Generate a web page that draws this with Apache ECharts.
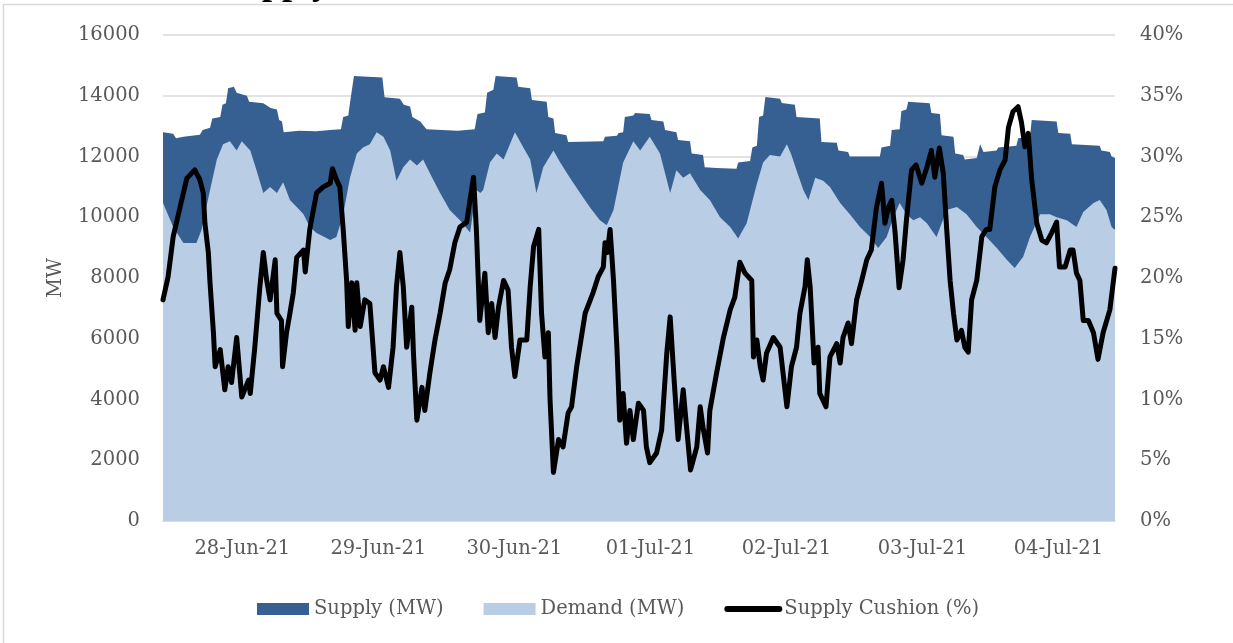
<html>
<head>
<meta charset="utf-8">
<script src="https://cdn.jsdelivr.net/npm/echarts@6/dist/echarts.min.js"></script>
<style>
  html, body { margin: 0; padding: 0; background: #fff; }
  #chart { width: 1233px; height: 643px; }
</style>
</head>
<body>
<div id="chart"></div>
<script type="text/javascript">

// hours counted from 27-Jun-21 10:00
var startTime = new Date(2021, 5, 27, 10, 0).getTime();
var spanHours = 168;

var dayLabels = ['27-Jun-21', '28-Jun-21', '29-Jun-21', '30-Jun-21', '01-Jul-21',
                 '02-Jul-21', '03-Jul-21', '04-Jul-21', '05-Jul-21'];

var supplyHours = [0, 1.8, 2.3, 3.6, 6.5, 7.0, 8.3, 8.7, 10.1, 10.5, 11.1, 11.5, 12.5, 13.0, 14.8, 15.2,
  17.7, 19.0, 20.1, 20.5, 21.0, 21.3, 24.0, 27.0, 29.5, 31.4, 31.8, 32.7, 33.1, 33.7, 38.7, 39.1,
  41.8, 42.5, 43.6, 44.0, 45.4, 46.5, 52.0, 55.0, 55.5, 56.8, 57.2, 58.3, 58.7, 62.4, 62.7, 64.8,
  65.1, 67.7, 68.0, 68.9, 69.2, 71.2, 71.5, 77.7, 78.0, 80.1, 80.4, 81.2, 81.5, 83.0, 83.3, 85.9,
  86.2, 88.3, 88.6, 90.6, 90.9, 93.0, 93.3, 95.3, 95.6, 97.7, 101.2, 101.5, 103.6, 104.0, 104.8, 105.2,
  105.9, 106.3, 108.9, 109.2, 111.5, 111.8, 115.9, 116.2, 118.9, 119.2, 120.9, 121.2, 126.5, 126.8, 128.3, 128.6,
  130.0, 130.3, 131.2, 131.5, 135.3, 135.6, 137.1, 137.4, 139.5, 139.8, 141.2, 141.5, 143.6, 144.2, 144.8, 147.1,
  147.4, 150.6, 150.9, 153.0, 153.3, 157.7, 158.0, 160.1, 160.4, 165.3, 165.6, 167.1, 167.4, 168];
var supplyMW = [12800, 12750, 12600, 12650, 12720, 12870, 12950, 13250, 13300, 13700, 13750, 14250, 14300, 14100, 14000, 13800,
  13750, 13600, 13550, 13200, 13150, 12800, 12850, 12830, 12870, 12900, 13300, 13350, 13900, 14650, 14600, 13950,
  13900, 13700, 13650, 13300, 13150, 12900, 12850, 12900, 13400, 13450, 14100, 14200, 14650, 14600, 14300, 14250,
  13860, 13800, 13300, 13250, 12770, 12700, 12480, 12500, 12650, 12680, 12770, 12800, 13300, 13350, 13430, 13400,
  13200, 13150, 12870, 12800, 12540, 12500, 12100, 12050, 11650, 11620, 11600, 11800, 11850, 12300, 12350, 13300,
  13350, 13960, 13900, 13760, 13700, 13300, 13250, 12480, 12450, 12200, 12150, 12000, 12000, 12300, 12350, 12870,
  12900, 13500, 13550, 13800, 13750, 13430, 13400, 12700, 12650, 12100, 12050, 11900, 11950, 12400, 12150, 12200,
  12300, 12350, 12600, 12650, 13200, 13150, 12770, 12750, 12400, 12350, 12200, 12150, 12000, 11950];

var demandHours = [0, 1.8, 3.6, 5.9, 6.8, 8.3, 9.5, 10.6, 11.8, 13.0, 13.9, 15.4, 16.5, 17.7, 18.9, 20.1,
  21.2, 22.4, 23.6, 24.8, 25.9, 27.1, 29.5, 30.6, 31.8, 33.0, 34.2, 35.3, 36.5, 37.7, 38.9, 40.1,
  41.2, 42.4, 43.6, 44.8, 45.9, 47.1, 48.9, 50.6, 52.4, 54.2, 54.8, 55.3, 56.0, 56.5, 57.7, 58.9,
  60.1, 62.1, 63.6, 64.8, 65.9, 67.1, 68.9, 70.1, 71.8, 73.6, 75.3, 77.1, 78.3, 79.5, 81.2, 83.0,
  84.2, 85.9, 87.7, 89.5, 90.6, 91.8, 93.0, 94.8, 96.5, 98.3, 100.1, 101.5, 103.0, 104.8, 105.9, 107.1,
  108.9, 110.1, 110.9, 111.8, 113.0, 113.9, 115.1, 116.5, 117.7, 119.5, 121.2, 123.0, 124.8, 126.2, 127.7, 128.9,
  130.0, 131.2, 132.4, 133.6, 134.8, 136.5, 138.3, 140.1, 141.8, 143.6, 145.3, 147.1, 148.9, 150.3, 151.8, 153.0,
  154.8, 156.5, 157.7, 159.5, 161.2, 162.4, 164.2, 165.3, 166.5, 167.4, 168];
var demandMW = [10470, 9680, 9150, 9150, 9580, 10900, 11900, 12400, 12500, 12200, 12500, 12200, 11550, 10800, 11000, 10800,
  11150, 10570, 10340, 10100, 9680, 9480, 9250, 9350, 10100, 11300, 12100, 12300, 12400, 12800, 12650, 12200,
  11200, 11650, 11900, 11700, 11900, 11450, 10800, 10240, 9900, 9500, 10300, 10900, 10800, 10900, 11800, 12100,
  11900, 12800, 12300, 11900, 10800, 11650, 12200, 11800, 11300, 10800, 10340, 9900, 9740, 10240, 11800, 12500,
  12200, 12650, 12100, 10800, 11550, 11300, 11450, 10900, 10570, 10000, 9680, 9300, 9800, 11100, 11800, 12050,
  12000, 12400, 12050, 11550, 10900, 10570, 11300, 11200, 11000, 10470, 10100, 9680, 9350, 8990, 9350, 10000,
  10470, 10100, 9900, 10000, 9800, 9350, 10240, 10340, 10100, 9680, 9350, 9000, 8600, 8330, 8700, 9350,
  10100, 10100, 10000, 9900, 9680, 10170, 10470, 10570, 10240, 9680, 9580];

var cushionHours = [0, 0.9, 1.8, 3.0, 4.2, 5.6, 6.5, 7.1, 7.4, 8.0, 8.3, 8.9, 9.2, 10.1, 10.9, 11.5,
  12.1, 13.0, 13.9, 15.1, 15.4, 16.2, 17.1, 17.7, 18.3, 18.9, 19.8, 20.1, 20.9, 21.1, 21.8, 22.4,
  23.0, 23.6, 24.8, 25.1, 25.9, 27.1, 28.3, 29.5, 29.9, 30.6, 31.2, 31.8, 32.4, 32.7, 33.3, 33.9,
  34.2, 34.8, 35.6, 36.5, 37.4, 38.3, 38.9, 39.8, 40.6, 41.2, 41.8, 42.4, 43.0, 43.9, 44.2, 44.8,
  45.7, 46.2, 47.1, 48.0, 48.9, 49.8, 50.6, 51.5, 52.4, 53.6, 54.2, 54.8, 55.3, 55.9, 56.8, 57.4,
  58.0, 58.6, 59.2, 60.1, 60.9, 61.5, 62.1, 63.0, 64.2, 64.8, 65.4, 66.3, 66.8, 67.4, 68.0, 68.3,
  68.9, 69.8, 70.6, 71.5, 72.1, 73.0, 74.5, 75.9, 76.8, 77.7, 78.0, 78.4, 78.9, 79.5, 80.1, 80.6,
  81.2, 81.8, 82.4, 83.0, 83.9, 84.8, 85.3, 85.9, 87.1, 88.0, 88.9, 89.5, 90.2, 90.9, 91.8, 92.4,
  93.1, 94.2, 94.8, 95.3, 96.1, 96.5, 97.7, 98.9, 100.1, 100.9, 101.8, 102.7, 103.9, 104.2, 104.8, 105.4,
  105.9, 106.5, 107.7, 108.9, 110.1, 110.9, 111.8, 112.4, 113.3, 113.7, 114.2, 114.9, 115.6, 115.9, 117.0, 117.7,
  118.9, 119.5, 120.0, 120.9, 121.5, 122.4, 123.3, 124.2, 125.0, 125.9, 126.8, 127.4, 128.0, 128.6, 129.2, 129.9,
  130.6, 131.2, 132.1, 132.9, 133.9, 134.8, 135.6, 136.2, 137.0, 137.7, 138.3, 138.9, 139.5, 140.1, 140.9, 141.5,
  142.1, 142.7, 143.6, 144.5, 145.3, 145.9, 146.8, 147.7, 148.6, 149.2, 150.0, 150.9, 151.5, 152.1, 152.7, 153.3,
  154.2, 155.1, 155.9, 156.8, 157.7, 158.2, 159.2, 160.1, 160.6, 161.2, 161.8, 162.4, 163.3, 164.2, 165.0, 165.9,
  167.1, 167.6, 168.0];
var cushionPct = [18.2, 20.1, 23.4, 25.8, 28.2, 28.9, 28.1, 27.0, 24.5, 22.1, 19.6, 15.5, 12.7, 14.1, 10.8, 12.7,
  11.4, 15.1, 10.2, 11.6, 10.5, 14.3, 19.3, 22.1, 19.8, 18.2, 21.5, 17.1, 16.5, 12.7, 15.5, 17.1,
  18.8, 21.7, 22.3, 20.5, 24.0, 27.0, 27.5, 27.8, 29.0, 28.1, 27.5, 24.0, 19.8, 16.0, 19.6, 15.7,
  19.6, 16.0, 18.2, 17.9, 12.2, 11.6, 12.7, 11.0, 14.3, 19.3, 22.1, 19.3, 14.3, 17.6, 13.8, 8.3,
  11.0, 9.1, 12.2, 14.9, 17.1, 19.6, 20.7, 22.9, 24.2, 24.6, 26.5, 28.3, 24.0, 16.5, 20.4, 15.5,
  17.9, 15.1, 17.6, 19.8, 19.0, 14.3, 11.9, 14.9, 14.9, 19.3, 22.6, 24.0, 17.1, 13.5, 15.5, 10.0,
  4.0, 6.7, 6.1, 8.9, 9.4, 12.7, 17.1, 18.8, 20.1, 20.9, 22.9, 22.1, 24.0, 19.8, 14.3, 8.3,
  10.5, 6.4, 9.1, 6.7, 9.7, 9.1, 6.1, 4.8, 5.6, 7.5, 13.8, 16.8, 11.6, 6.7, 10.8, 7.7,
  4.2, 6.1, 9.4, 7.7, 5.6, 9.1, 12.2, 15.1, 17.4, 18.4, 21.3, 20.4, 19.8, 13.5, 14.9, 12.7,
  11.6, 13.8, 15.1, 14.3, 9.4, 12.7, 14.3, 17.1, 19.3, 21.5, 19.3, 13.0, 14.3, 10.5, 9.4, 13.5,
  14.6, 13.0, 15.1, 16.3, 14.6, 18.2, 19.8, 21.5, 22.3, 25.8, 27.8, 24.5, 25.8, 26.4, 23.7, 19.2,
  21.5, 24.8, 28.9, 29.3, 27.8, 29.1, 30.5, 28.3, 30.7, 28.6, 24.0, 19.8, 17.1, 14.9, 15.7, 14.3,
  13.9, 18.2, 19.8, 23.4, 24.0, 24.0, 27.5, 28.9, 29.7, 32.4, 33.7, 34.1, 32.8, 30.8, 31.9, 28.1,
  24.5, 23.1, 22.9, 23.7, 24.6, 20.9, 20.9, 22.3, 22.3, 20.4, 19.8, 16.5, 16.5, 15.5, 13.3, 15.5,
  17.4, 19.3, 20.8];

function toPairs(hours, values) {
  return hours.map(function (h, i) { return [startTime + h * 3600000, values[i]]; });
}

var firstDay = new Date(2021, 5, 27).getTime();
var textGrey = '#595959';
var fontName = 'DejaVu Serif';

var chart = echarts.init(document.getElementById('chart'));

var option = {
  backgroundColor: '#fff',
  animation: false,
  textStyle: { fontFamily: fontName },
  grid: { left: 163, right: 118, top: 35, bottom: 122 },
  graphic: [
    {
      type: 'rect', silent: true, z: 0,
      shape: { x: 3.5, y: 4.5, width: 1240, height: 660 },
      style: { fill: 'none', stroke: '#D9D9D9', lineWidth: 1.5 }
    },
    {
      type: 'text', silent: true, z: 10,
      style: { text: 'Supply', x: 222, y: -33, verticalAlign: 'top',
               font: 'bold 36px "Liberation Serif"', fill: '#000' }
    }
  ],
  legend: {
    left: 252, top: 594,
    itemWidth: 52, itemHeight: 12, itemGap: 40,
    textStyle: { color: textGrey, fontSize: 19.5, fontFamily: fontName },
    data: [
      { name: 'Supply (MW)', icon: 'rect' },
      { name: 'Demand (MW)', icon: 'rect' },
      { name: 'Supply Cushion (%)', itemStyle: { opacity: 0 },
        lineStyle: { width: 6, cap: 'round', color: '#000' } }
    ]
  },
  xAxis: {
    type: 'time',
    min: startTime,
    max: startTime + spanHours * 3600000,
    minInterval: 24 * 3600000,
    maxInterval: 24 * 3600000,
    axisLine: { show: true, lineStyle: { color: '#D9D9D9', width: 1.5 } },
    axisTick: { show: false },
    splitLine: { show: false },
    axisLabel: {
      color: textGrey, fontSize: 19.5, margin: 18,
      showMinLabel: false, showMaxLabel: false,
      formatter: function (val) {
        var idx = Math.round((val - firstDay) / 86400000);
        return dayLabels[idx] || '';
      }
    }
  },
  yAxis: [
    {
      type: 'value', min: 0, max: 16000, interval: 2000,
      name: 'MW', nameLocation: 'middle', nameGap: 97, nameRotate: 90,
      nameTextStyle: { color: textGrey, fontSize: 19.5 },
      axisLine: { show: false }, axisTick: { show: false },
      axisLabel: { color: textGrey, fontSize: 19.5, margin: 23,
                   formatter: function (v) { return String(v); } },
      splitLine: { lineStyle: { color: '#D9D9D9', width: 1.5 } }
    },
    {
      type: 'value', min: 0, max: 40, interval: 5,
      axisLine: { show: false }, axisTick: { show: false },
      axisLabel: { color: textGrey, fontSize: 19.5, margin: 25, formatter: '{value}%' },
      splitLine: { show: false }
    }
  ],
  series: [
    {
      name: 'Supply (MW)', type: 'line', yAxisIndex: 0,
      data: toPairs(supplyHours, supplyMW),
      symbol: 'none', color: '#376092',
      lineStyle: { width: 0 },
      areaStyle: { color: '#376092', opacity: 1 },
      z: 2
    },
    {
      name: 'Demand (MW)', type: 'line', yAxisIndex: 0,
      data: toPairs(demandHours, demandMW),
      symbol: 'none', color: '#B9CDE5',
      lineStyle: { width: 0 },
      areaStyle: { color: '#B9CDE5', opacity: 1 },
      z: 3
    },
    {
      name: 'Supply Cushion (%)', type: 'line', yAxisIndex: 1,
      data: toPairs(cushionHours, cushionPct),
      symbol: 'none', color: '#000',
      lineStyle: { color: '#000', width: 5, cap: 'round', join: 'round' },
      z: 4
    }
  ]
};

option && chart.setOption(option);

</script>
</body>
</html>
